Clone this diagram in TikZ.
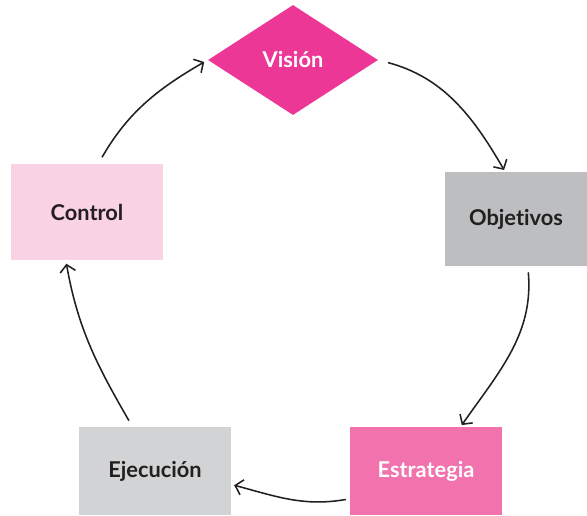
\documentclass[tikz,border=0pt]{standalone}
\usepackage{fontspec}
\setmainfont{Lato}[Ligatures=NoCommon]
\usetikzlibrary{shapes.geometric,arrows.meta}
\definecolor{vispink}{RGB}{236,55,150}
\definecolor{estpink}{RGB}{241,114,172}
\definecolor{ctrlpink}{RGB}{249,210,228}
\definecolor{objgray}{RGB}{188,190,192}
\definecolor{ejegray}{RGB}{209,211,212}
\definecolor{ink}{RGB}{35,31,32}
\begin{document}
\begin{tikzpicture}[x=0.025cm,y=0.025cm,
  box/.style={rectangle,inner sep=0,font=\bfseries\fontsize{15.5}{18}\selectfont,text=ink},
  arr/.style={line width=1.1pt,draw=ink,-{Straight Barb[length=5pt,width=11pt,line width=1.1pt]}}]
\useasboundingbox (0,0) rectangle (587,515);
\node[diamond,aspect=1.545,inner sep=0,minimum width=4.25cm,minimum height=2.75cm,fill=vispink,text=white,font=\bfseries\fontsize{15.5}{18}\selectfont] (vision) at (293,455) {Visión};
\node[box,fill=objgray,minimum width=3.55cm,minimum height=2.35cm] (objetivos) at (516,296) {Objetivos};
\node[box,fill=estpink,text=white,minimum width=3.8cm,minimum height=2.2cm] (estrategia) at (426,44) {Estrategia};
\node[box,fill=ejegray,minimum width=3.8cm,minimum height=2.2cm] (ejecucion) at (155,44) {Ejecución};
\node[box,fill=ctrlpink,minimum width=3.8cm,minimum height=2.375cm] (control) at (87,303) {Control};
\draw[arr,shorten <=0.25cm,shorten >=0.05cm] (vision.east) to[out=-15,in=120] (objetivos.103);
\draw[arr,shorten <=0.15cm,shorten >=0.05cm] (objetivos.-76) to[out=-85,in=55] (estrategia.52);
\draw[arr,shorten <=0.1cm,shorten >=0.075cm] (estrategia.200) to[out=190,in=-15] (ejecucion.-10);
\draw[arr,shorten <=0.175cm,shorten >=0.1cm] (ejecucion.117) to[out=120,in=-80] (control.246);
\draw[arr,shorten <=0.2cm,shorten >=0.1cm] (control.77) to[out=60,in=-150] (vision.west);
\end{tikzpicture}
\end{document}
